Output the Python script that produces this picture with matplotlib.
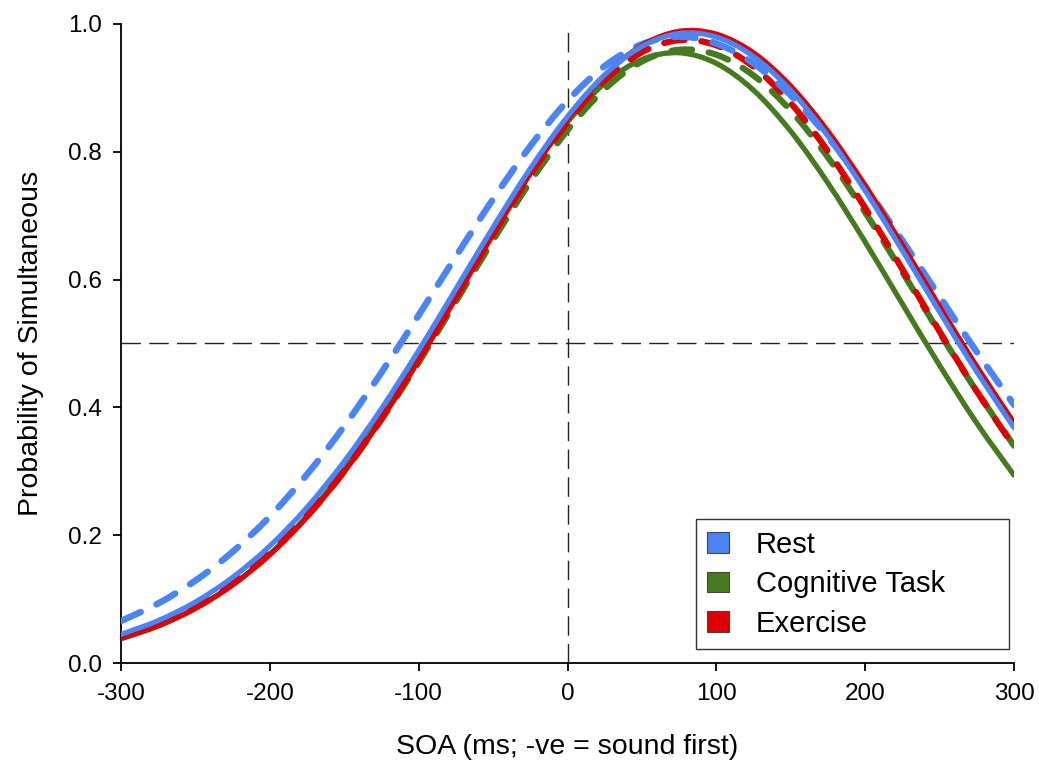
import matplotlib
matplotlib.use("Agg")
import matplotlib.pyplot as plt
from matplotlib.patches import Patch, PathPatch
from matplotlib.path import Path

plt.rcParams['font.family'] = ['Liberation Sans', 'DejaVu Sans']

soa = [-300, -275, -250, -225, -200, -175, -150, -125, -100, -75, -50, -25, 0,
       25, 50, 75, 100, 125, 150, 175, 200, 225, 250, 275, 300]

rest_solid = [0.0450, 0.0665, 0.0957, 0.1342, 0.1833, 0.2438, 0.3157, 0.3983, 0.4892,
              0.5853, 0.6820, 0.7739, 0.8552, 0.9205, 0.9649, 0.9850, 0.9794, 0.9489,
              0.8958, 0.8241, 0.7387, 0.6452, 0.5492, 0.4554, 0.3680]
rest_dashed = [0.0659, 0.0933, 0.1291, 0.1742, 0.2295, 0.2953, 0.3709, 0.4548, 0.5444,
               0.6363, 0.7261, 0.8089, 0.8797, 0.9341, 0.9683, 0.9800, 0.9693, 0.9380,
               0.8881, 0.8227, 0.7455, 0.6609, 0.5733, 0.4865, 0.4039]
cog_solid = [0.0380, 0.0578, 0.0853, 0.1223, 0.1704, 0.2305, 0.3030, 0.3867, 0.4794,
             0.5773, 0.6752, 0.7670, 0.8464, 0.9071, 0.9443, 0.9548, 0.9382, 0.8961,
             0.8319, 0.7508, 0.6587, 0.5617, 0.4656, 0.3752, 0.2938]
cog_dashed = [0.0400, 0.0599, 0.0873, 0.1238, 0.1709, 0.2294, 0.2995, 0.3806, 0.4704,
              0.5657, 0.6617, 0.7531, 0.8338, 0.8981, 0.9412, 0.9595, 0.9518, 0.9192,
              0.8642, 0.7911, 0.7050, 0.6116, 0.5166, 0.4248, 0.3400]
ex_solid = [0.0390, 0.0587, 0.0859, 0.1223, 0.1694, 0.2282, 0.2991, 0.3814, 0.4731,
            0.5710, 0.6703, 0.7656, 0.8505, 0.9192, 0.9665, 0.9886, 0.9841, 0.9548,
            0.9028, 0.8320, 0.7473, 0.6542, 0.5582, 0.4642, 0.3762]
ex_dashed = [0.0399, 0.0599, 0.0875, 0.1244, 0.1719, 0.2312, 0.3023, 0.3846, 0.4760,
             0.5729, 0.6707, 0.7639, 0.8462, 0.9119, 0.9558, 0.9745, 0.9665, 0.9328,
             0.8760, 0.8005, 0.7119, 0.6160, 0.5186, 0.4249, 0.3388]

labels = ["Rest", "Cognitive Task", "Exercise"]
xticks = [-300, -200, -100, 0, 100, 200, 300]
yticks = [0.0, 0.2, 0.4, 0.6, 0.8, 1.0]

c_blue = '#4a84f6'
c_green = '#467a1f'
c_red = '#dd0000'


def smooth_path(xs, ys):
    """Smooth (Catmull-Rom as cubic Bezier) path passing through every data point."""
    pts = list(zip(xs, ys))
    n = len(pts)
    verts = [pts[0]]
    codes = [Path.MOVETO]
    for i in range(n - 1):
        p0 = pts[i - 1] if i > 0 else pts[i]
        p1 = pts[i]
        p2 = pts[i + 1]
        p3 = pts[i + 2] if i + 2 < n else pts[i + 1]
        c1 = (p1[0] + (p2[0] - p0[0]) / 6.0, p1[1] + (p2[1] - p0[1]) / 6.0)
        c2 = (p2[0] - (p3[0] - p1[0]) / 6.0, p2[1] - (p3[1] - p1[1]) / 6.0)
        verts += [c1, c2, p2]
        codes += [Path.CURVE4] * 3
    return Path(verts, codes)


def draw(ax, xs, ys, color, lw, dashed, z):
    patch = PathPatch(smooth_path(xs, ys), fill=False, edgecolor=color, lw=lw,
                      capstyle='round', joinstyle='round', zorder=z)
    if dashed:
        patch.set_linestyle((0, (3.3, 2.7)))
    ax.add_patch(patch)


fig = plt.figure(figsize=(10.39, 7.71), dpi=100)
ax = fig.add_axes([0.1165, 0.140, 0.8595, 0.829])

# reference lines
ax.axvline(0, color='#222222', lw=1.0, dashes=(14, 6), zorder=1)
ax.axhline(0.5, color='#222222', lw=1.0, dashes=(14, 6), zorder=1)

draw(ax, soa, cog_solid, c_green, 3.8, False, 2)
draw(ax, soa, cog_dashed, c_green, 4.5, True, 3)
draw(ax, soa, ex_dashed, c_red, 4.5, True, 4)
draw(ax, soa, rest_dashed, c_blue, 4.7, True, 5)
draw(ax, soa, ex_solid, c_red, 3.6, False, 6)
draw(ax, soa, rest_solid, c_blue, 3.7, False, 7)

ax.set_xlim(-300, 300)
ax.set_ylim(0, 1.0)
ax.set_xticks(xticks)
ax.set_xticklabels([str(t) for t in xticks])
ax.set_yticks(yticks)
ax.set_yticklabels([f"{t:.1f}" for t in yticks])
ax.tick_params(direction='out', length=6, width=1.3, labelsize=17.5, pad=8, color='black')
for s in ['top', 'right']:
    ax.spines[s].set_visible(False)
for s in ['left', 'bottom']:
    ax.spines[s].set_linewidth(1.3)
ax.set_xlabel("SOA (ms; -ve = sound first)", fontsize=20.5, labelpad=21)
ax.set_ylabel("Probability of Simultaneous", fontsize=20.5, labelpad=17)

handles = [Patch(facecolor=c, edgecolor='#444444', lw=0.8) for c in (c_blue, c_green, c_red)]
leg = ax.legend(handles, labels, loc='lower left', bbox_to_anchor=(0.6439, 0.022, 0.3505, 0.3),
                mode='expand', fontsize=21, frameon=True, fancybox=False, edgecolor='black',
                handlelength=0.76, handleheight=0.72, handletextpad=0.9,
                labelspacing=0.4, borderpad=0.38, borderaxespad=0)
leg.get_frame().set_linewidth(1.0)

fig.savefig("out.png", dpi=100, facecolor='white')
